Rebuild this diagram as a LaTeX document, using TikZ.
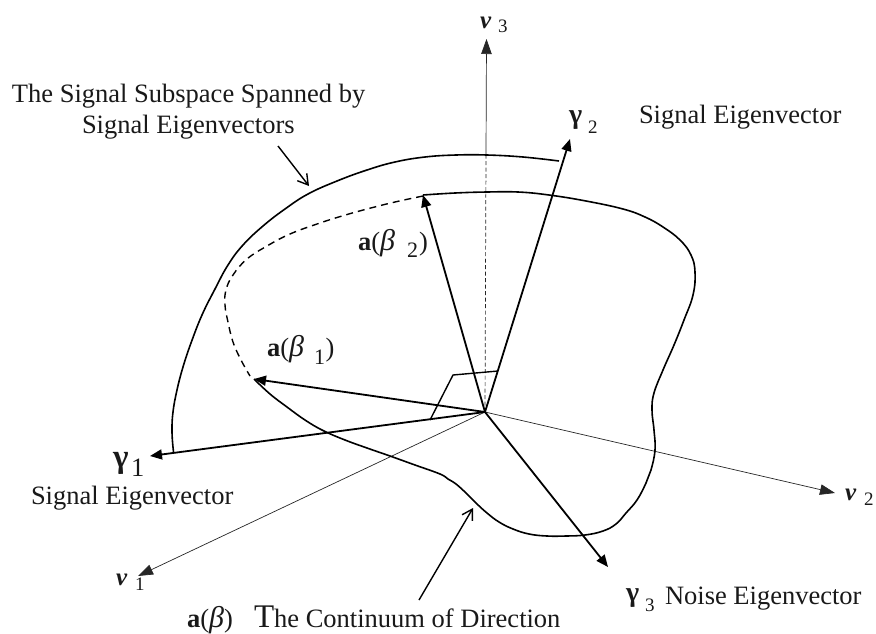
\documentclass[tikz,border=0pt]{standalone}
\usepackage{fontspec}
\setmainfont{Liberation Serif}
\usetikzlibrary{arrows.meta}
\newcommand{\bigbeta}{{\fontsize{30}{30}\selectfont\itshape β}}
\tikzset{
  lbl/.style={inner sep=0pt,outer sep=0pt,anchor=base west,font=\fontsize{26.5}{28}\selectfont,text=black!90},
  sub/.style={lbl,font=\fontsize{19}{21}\selectfont},
  sublg/.style={lbl,font=\fontsize{22}{24}\selectfont},
  vec/.style={lbl,font=\fontsize{25}{27}\selectfont\bfseries\itshape},
  gam/.style={lbl,font=\fontsize{28}{30}\selectfont\bfseries},
  axis/.style={line width=0.7pt,draw=black!85,-{Triangle[length=15pt,width=10.5pt]}},
  bold/.style={line width=1.8pt,-{Triangle[length=12pt,width=10pt]}},
  curve/.style={line width=1.6pt,line join=round},
  pointer/.style={line width=1.4pt,-{Straight Barb[length=10pt,width=12pt,line width=1.4pt]}},
}
\begin{document}
\begin{tikzpicture}[x=1pt,y=-1pt]
\useasboundingbox (0,0) rectangle (876,633);
\coordinate (O) at (485,412);
\coordinate (v1) at (138,576);
\coordinate (v2) at (835,493);
\coordinate (v3) at (486.5,39);
\coordinate (v3m) at (486,155);
\coordinate (g1) at (150,456);
\coordinate (g2) at (570,139);
\coordinate (g3) at (608,567);
\coordinate (b1) at (254,379);
\coordinate (b2) at (423,195);
% axes
\draw[axis] (v3m) -- (v3);
\draw[line width=0.7pt,draw=black!85,dash pattern=on 4pt off 2.5pt] (O) -- (v3m);
\draw[axis] (O) -- (v1);
\draw[axis] (O) -- (v2);
% outer subspace boundary
\draw[curve] plot[smooth,tension=0.7] coordinates {(173.5,452) (172,432) (173,412) (177,390) (183,367) (191,343) (202,315) (215,289) (228,265) (243,245) (263,226) (285,209) (308,194) (337,181) (367,170) (395,162) (425,157) (456,155) (487,155) (523,157) (559,161)};
% dashed part
\draw[line width=1.4pt,dash pattern=on 7pt off 5pt] plot[smooth,tension=0.7] coordinates {(423,196) (395,202) (367,209) (342,216) (317,224) (290,234) (267,246) (247,259) (233,275) (226,290) (225,305) (228,322) (233,342) (241,360) (250,376)};
% solid contour
\draw[curve] plot[smooth,tension=0.7] coordinates {(423,195) (455,193) (487,192) (518,192) (549,195) (586,201) (623,209) (645,217) (663,227) (680,240) (691,255) (695,272) (693,295) (684,320) (674,345) (663,370) (654,393) (652,410) (654,430) (655,450) (651,470) (646,483) (637,500) (626,513) (616,524) (603,531) (585,535) (566,536) (547,536) (529,534) (513,529) (499,522) (487,513) (476,503) (466,493) (456,484) (448,479) (440,474) (415,465) (390,456) (367,448) (345,440) (323,430.5) (305,420) (287,407) (270,394) (254,379)};
% eigenvectors
\draw[bold] (O) -- (g1);
\draw[bold] (O) -- (g2);
\draw[bold] (O) -- (g3);
\draw[bold] (O) -- (b1);
\draw[bold] (O) -- (b2);
% right-angle mark
\coordinate (r1) at (430,420);
\coordinate (r2) at (453,375);
\coordinate (r3) at (498,371);
\draw[line width=1.4pt,line join=round] (r1) -- (r2) -- (r3);
% pointers
\coordinate (p1s) at (278,146);
\coordinate (p1e) at (309,186);
\coordinate (p2s) at (419,600);
\coordinate (p2e) at (473,508);
\draw[pointer] (p1s) -- (p1e);
\draw[pointer] (p2s) -- (p2e);
% labels
\node[lbl] (t1) at (12,102) {The Signal Subspace Spanned by};
\node[lbl] (t2) at (82,133) {Signal Eigenvectors};
\node[vec] (nv3) at (480,28) {v};
\node[sub] (nv3s) at (498,32) {3};
\node[vec] (nv2) at (845,500) {v};
\node[sub] (nv2s) at (864,505) {2};
\node[vec] (nv1) at (116,585) {v};
\node[sub] (nv1s) at (135,590) {1};
\node[gam] (ng2) at (569,123) {γ};
\node[sub] (ng2s) at (588,133) {2};
\node[lbl] (se2) at (639,123) {Signal Eigenvector};
\node[gam,font=\fontsize{33}{35}\selectfont\bfseries] (ng1) at (113,467) {γ};
\node[lbl] (ng1s) at (131,476) {1};
\node[lbl] (se1) at (31,504) {Signal Eigenvector};
\node[gam] (ng3) at (626,601) {γ};
\node[sub] (ng3s) at (645,611) {3};
\node[lbl] (ne) at (665,604) {Noise Eigenvector};
\node[lbl] (ab2) at (358,250) {\textbf{a}(\bigbeta};
\node[sublg] (ab2s) at (407,257) {2};
\node[lbl] (ab2c) at (419,250) {)};
\node[lbl] (ab1) at (267,356) {\textbf{a}(\bigbeta};
\node[sublg] (ab1s) at (314,364) {1};
\node[lbl] (ab1c) at (325.5,356) {)};
\node[lbl] (ab) at (187,627) {\textbf{a}(\bigbeta)};
\node[lbl] (cont) at (254,627) {{\fontsize{33}{33}\selectfont T}he Continuum of Direction};
\end{tikzpicture}
\end{document}
